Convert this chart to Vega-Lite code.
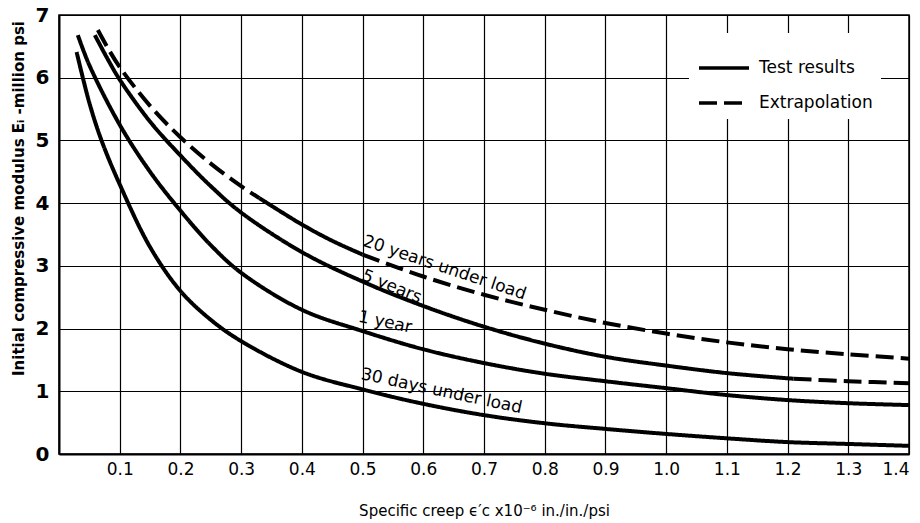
{
  "$schema": "https://vega.github.io/schema/vega-lite/v6.json",
  "width": 850,
  "height": 439,
  "autosize": {"type": "none"},
  "padding": {"left": 59, "top": 15, "right": 11, "bottom": 69},
  "background": "white",
  "config": {"view": {"stroke": "black", "strokeWidth": 1.5}, "font": "DejaVu Sans"},
  "datasets": {
    "curves": [
      {"curve": "30 days", "segment": "30d-a", "style": "Test results", "x": 0.029, "y": 6.41},
      {"curve": "30 days", "segment": "30d-a", "style": "Test results", "x": 0.05, "y": 5.6},
      {"curve": "30 days", "segment": "30d-a", "style": "Test results", "x": 0.07, "y": 5.0},
      {"curve": "30 days", "segment": "30d-a", "style": "Test results", "x": 0.1, "y": 4.3},
      {"curve": "30 days", "segment": "30d-a", "style": "Test results", "x": 0.15, "y": 3.3},
      {"curve": "30 days", "segment": "30d-a", "style": "Test results", "x": 0.2, "y": 2.6},
      {"curve": "30 days", "segment": "30d-a", "style": "Test results", "x": 0.25, "y": 2.14},
      {"curve": "30 days", "segment": "30d-a", "style": "Test results", "x": 0.3, "y": 1.8},
      {"curve": "30 days", "segment": "30d-a", "style": "Test results", "x": 0.4, "y": 1.31},
      {"curve": "30 days", "segment": "30d-a", "style": "Test results", "x": 0.5, "y": 1.03},
      {"curve": "30 days", "segment": "30d-a", "style": "Test results", "x": 0.6, "y": 0.8},
      {"curve": "30 days", "segment": "30d-a", "style": "Test results", "x": 0.7, "y": 0.62},
      {"curve": "30 days", "segment": "30d-a", "style": "Test results", "x": 0.8, "y": 0.49},
      {"curve": "30 days", "segment": "30d-a", "style": "Test results", "x": 0.9, "y": 0.4},
      {"curve": "30 days", "segment": "30d-a", "style": "Test results", "x": 1.0, "y": 0.32},
      {"curve": "30 days", "segment": "30d-a", "style": "Test results", "x": 1.1, "y": 0.25},
      {"curve": "30 days", "segment": "30d-a", "style": "Test results", "x": 1.2, "y": 0.19},
      {"curve": "30 days", "segment": "30d-a", "style": "Test results", "x": 1.3, "y": 0.16},
      {"curve": "30 days", "segment": "30d-a", "style": "Test results", "x": 1.4, "y": 0.13},

      {"curve": "1 year", "segment": "1y-a", "style": "Test results", "x": 0.031, "y": 6.68},
      {"curve": "1 year", "segment": "1y-a", "style": "Test results", "x": 0.05, "y": 6.2},
      {"curve": "1 year", "segment": "1y-a", "style": "Test results", "x": 0.1, "y": 5.25},
      {"curve": "1 year", "segment": "1y-a", "style": "Test results", "x": 0.15, "y": 4.5},
      {"curve": "1 year", "segment": "1y-a", "style": "Test results", "x": 0.2, "y": 3.88},
      {"curve": "1 year", "segment": "1y-a", "style": "Test results", "x": 0.25, "y": 3.33},
      {"curve": "1 year", "segment": "1y-a", "style": "Test results", "x": 0.3, "y": 2.89},
      {"curve": "1 year", "segment": "1y-a", "style": "Test results", "x": 0.4, "y": 2.3},
      {"curve": "1 year", "segment": "1y-a", "style": "Test results", "x": 0.5, "y": 1.96},
      {"curve": "1 year", "segment": "1y-a", "style": "Test results", "x": 0.6, "y": 1.67},
      {"curve": "1 year", "segment": "1y-a", "style": "Test results", "x": 0.7, "y": 1.45},
      {"curve": "1 year", "segment": "1y-a", "style": "Test results", "x": 0.8, "y": 1.28},
      {"curve": "1 year", "segment": "1y-a", "style": "Test results", "x": 0.9, "y": 1.16},
      {"curve": "1 year", "segment": "1y-a", "style": "Test results", "x": 1.0, "y": 1.05},
      {"curve": "1 year", "segment": "1y-a", "style": "Test results", "x": 1.1, "y": 0.94},
      {"curve": "1 year", "segment": "1y-a", "style": "Test results", "x": 1.2, "y": 0.86},
      {"curve": "1 year", "segment": "1y-a", "style": "Test results", "x": 1.3, "y": 0.81},
      {"curve": "1 year", "segment": "1y-a", "style": "Test results", "x": 1.4, "y": 0.78},

      {"curve": "5 years", "segment": "5y-a", "style": "Test results", "x": 0.059, "y": 6.68},
      {"curve": "5 years", "segment": "5y-a", "style": "Test results", "x": 0.08, "y": 6.3},
      {"curve": "5 years", "segment": "5y-a", "style": "Test results", "x": 0.1, "y": 5.97},
      {"curve": "5 years", "segment": "5y-a", "style": "Test results", "x": 0.15, "y": 5.3},
      {"curve": "5 years", "segment": "5y-a", "style": "Test results", "x": 0.2, "y": 4.76},
      {"curve": "5 years", "segment": "5y-a", "style": "Test results", "x": 0.25, "y": 4.27},
      {"curve": "5 years", "segment": "5y-a", "style": "Test results", "x": 0.3, "y": 3.85},
      {"curve": "5 years", "segment": "5y-a", "style": "Test results", "x": 0.4, "y": 3.22},
      {"curve": "5 years", "segment": "5y-a", "style": "Test results", "x": 0.5, "y": 2.75},
      {"curve": "5 years", "segment": "5y-a", "style": "Test results", "x": 0.6, "y": 2.36},
      {"curve": "5 years", "segment": "5y-a", "style": "Test results", "x": 0.7, "y": 2.03},
      {"curve": "5 years", "segment": "5y-a", "style": "Test results", "x": 0.8, "y": 1.76},
      {"curve": "5 years", "segment": "5y-a", "style": "Test results", "x": 0.9, "y": 1.55},
      {"curve": "5 years", "segment": "5y-a", "style": "Test results", "x": 1.0, "y": 1.41},
      {"curve": "5 years", "segment": "5y-a", "style": "Test results", "x": 1.1, "y": 1.29},
      {"curve": "5 years", "segment": "5y-a", "style": "Test results", "x": 1.21, "y": 1.2},
      {"curve": "5 years", "segment": "5y-b", "style": "Extrapolation", "x": 1.21, "y": 1.2},
      {"curve": "5 years", "segment": "5y-b", "style": "Extrapolation", "x": 1.3, "y": 1.16},
      {"curve": "5 years", "segment": "5y-b", "style": "Extrapolation", "x": 1.4, "y": 1.13},

      {"curve": "20 years", "segment": "20y-a", "style": "Extrapolation", "x": 0.064, "y": 6.76},
      {"curve": "20 years", "segment": "20y-a", "style": "Extrapolation", "x": 0.08, "y": 6.48},
      {"curve": "20 years", "segment": "20y-a", "style": "Extrapolation", "x": 0.1, "y": 6.17},
      {"curve": "20 years", "segment": "20y-a", "style": "Extrapolation", "x": 0.15, "y": 5.55},
      {"curve": "20 years", "segment": "20y-a", "style": "Extrapolation", "x": 0.2, "y": 5.05},
      {"curve": "20 years", "segment": "20y-a", "style": "Extrapolation", "x": 0.25, "y": 4.63},
      {"curve": "20 years", "segment": "20y-a", "style": "Extrapolation", "x": 0.3, "y": 4.27},
      {"curve": "20 years", "segment": "20y-a", "style": "Extrapolation", "x": 0.33, "y": 4.08},
      {"curve": "20 years", "segment": "20y-b", "style": "Test results", "x": 0.33, "y": 4.08},
      {"curve": "20 years", "segment": "20y-b", "style": "Test results", "x": 0.4, "y": 3.66},
      {"curve": "20 years", "segment": "20y-b", "style": "Test results", "x": 0.45, "y": 3.4},
      {"curve": "20 years", "segment": "20y-b", "style": "Test results", "x": 0.5, "y": 3.18},
      {"curve": "20 years", "segment": "20y-c", "style": "Extrapolation", "x": 0.5, "y": 3.18},
      {"curve": "20 years", "segment": "20y-c", "style": "Extrapolation", "x": 0.6, "y": 2.83},
      {"curve": "20 years", "segment": "20y-c", "style": "Extrapolation", "x": 0.7, "y": 2.54},
      {"curve": "20 years", "segment": "20y-c", "style": "Extrapolation", "x": 0.8, "y": 2.3},
      {"curve": "20 years", "segment": "20y-c", "style": "Extrapolation", "x": 0.9, "y": 2.09},
      {"curve": "20 years", "segment": "20y-c", "style": "Extrapolation", "x": 1.0, "y": 1.92},
      {"curve": "20 years", "segment": "20y-c", "style": "Extrapolation", "x": 1.1, "y": 1.78},
      {"curve": "20 years", "segment": "20y-c", "style": "Extrapolation", "x": 1.2, "y": 1.67},
      {"curve": "20 years", "segment": "20y-c", "style": "Extrapolation", "x": 1.3, "y": 1.59},
      {"curve": "20 years", "segment": "20y-c", "style": "Extrapolation", "x": 1.4, "y": 1.52}
    ],
    "labels": [
      {"label": "20 years under load", "x": 0.635, "y": 2.97},
      {"label": "5 years", "x": 0.548, "y": 2.67},
      {"label": "1 year", "x": 0.537, "y": 2.1},
      {"label": "30 days under load", "x": 0.63, "y": 1.0}
    ]
  },
  "layer": [
    {
      "data": {"name": "curves"},
      "mark": {"type": "line", "color": "black", "strokeWidth": 4, "interpolate": "catmull-rom", "strokeCap": "butt"},
      "encoding": {
        "x": {
          "field": "x", "type": "quantitative",
          "scale": {"domain": [0, 1.4], "nice": false, "zero": false},
          "axis": {
            "values": [0.1, 0.2, 0.3, 0.4, 0.5, 0.6, 0.7, 0.8, 0.9, 1.0, 1.1, 1.2, 1.3, 1.4],
            "format": ".1f",
            "grid": true, "gridColor": "black", "gridWidth": 1.2, "gridOpacity": 1,
            "domainColor": "black", "domainWidth": 2, "ticks": false,
            "labelFontSize": 17, "labelPadding": 7, "labelColor": "black",
            "title": "Specific creep ϵ′c x10⁻⁶ in./in./psi",
            "titleFontSize": 15, "titleFontWeight": "normal", "titleColor": "black",
            "titleY": 56, "titleBaseline": "middle"
          }
        },
        "y": {
          "field": "y", "type": "quantitative",
          "scale": {"domain": [0, 7], "nice": false},
          "axis": {
            "values": [0, 1, 2, 3, 4, 5, 6, 7],
            "format": "d",
            "grid": true, "gridColor": "black", "gridWidth": 1.2, "gridOpacity": 1,
            "domainColor": "black", "domainWidth": 2, "ticks": false,
            "labelFontSize": 20, "labelFontWeight": "bold", "labelPadding": 10, "labelColor": "black",
            "title": "Initial compressive modulus Eᵢ -million psi",
            "titleFontSize": 15, "titleFontWeight": "bold", "titleColor": "black",
            "titleX": -41, "titleY": 183, "titleAngle": -90, "titleBaseline": "middle", "titleAlign": "center"
          }
        },
        "detail": {"field": "segment", "type": "nominal"},
        "strokeDash": {
          "field": "style", "type": "nominal",
          "scale": {"domain": ["Test results", "Extrapolation"], "range": [[1, 0], [18, 7]]},
          "legend": {
            "title": null, "orient": "none", "legendX": 630, "legendY": 18,
            "fillColor": "white", "padding": 8,
            "symbolType": "stroke", "symbolSize": 2500, "symbolStrokeWidth": 3.5, "symbolStrokeColor": "black",
            "labelFontSize": 17, "labelOffset": 8, "rowPadding": 0, "labelColor": "black"
          }
        }
      }
    },
    {
      "data": {"name": "labels"},
      "transform": [{"filter": "datum.label == '20 years under load'"}],
      "mark": {"type": "text", "angle": 18.5, "fontSize": 17, "align": "center", "baseline": "middle", "color": "black"},
      "encoding": {"x": {"field": "x", "type": "quantitative"}, "y": {"field": "y", "type": "quantitative"}, "text": {"field": "label"}}
    },
    {
      "data": {"name": "labels"},
      "transform": [{"filter": "datum.label == '5 years'"}],
      "mark": {"type": "text", "angle": 22, "fontSize": 17, "align": "center", "baseline": "middle", "color": "black"},
      "encoding": {"x": {"field": "x", "type": "quantitative"}, "y": {"field": "y", "type": "quantitative"}, "text": {"field": "label"}}
    },
    {
      "data": {"name": "labels"},
      "transform": [{"filter": "datum.label == '1 year'"}],
      "mark": {"type": "text", "angle": 12, "fontSize": 17, "align": "center", "baseline": "middle", "color": "black"},
      "encoding": {"x": {"field": "x", "type": "quantitative"}, "y": {"field": "y", "type": "quantitative"}, "text": {"field": "label"}}
    },
    {
      "data": {"name": "labels"},
      "transform": [{"filter": "datum.label == '30 days under load'"}],
      "mark": {"type": "text", "angle": 12, "fontSize": 17, "align": "center", "baseline": "middle", "color": "black"},
      "encoding": {"x": {"field": "x", "type": "quantitative"}, "y": {"field": "y", "type": "quantitative"}, "text": {"field": "label"}}
    }
  ]
}
